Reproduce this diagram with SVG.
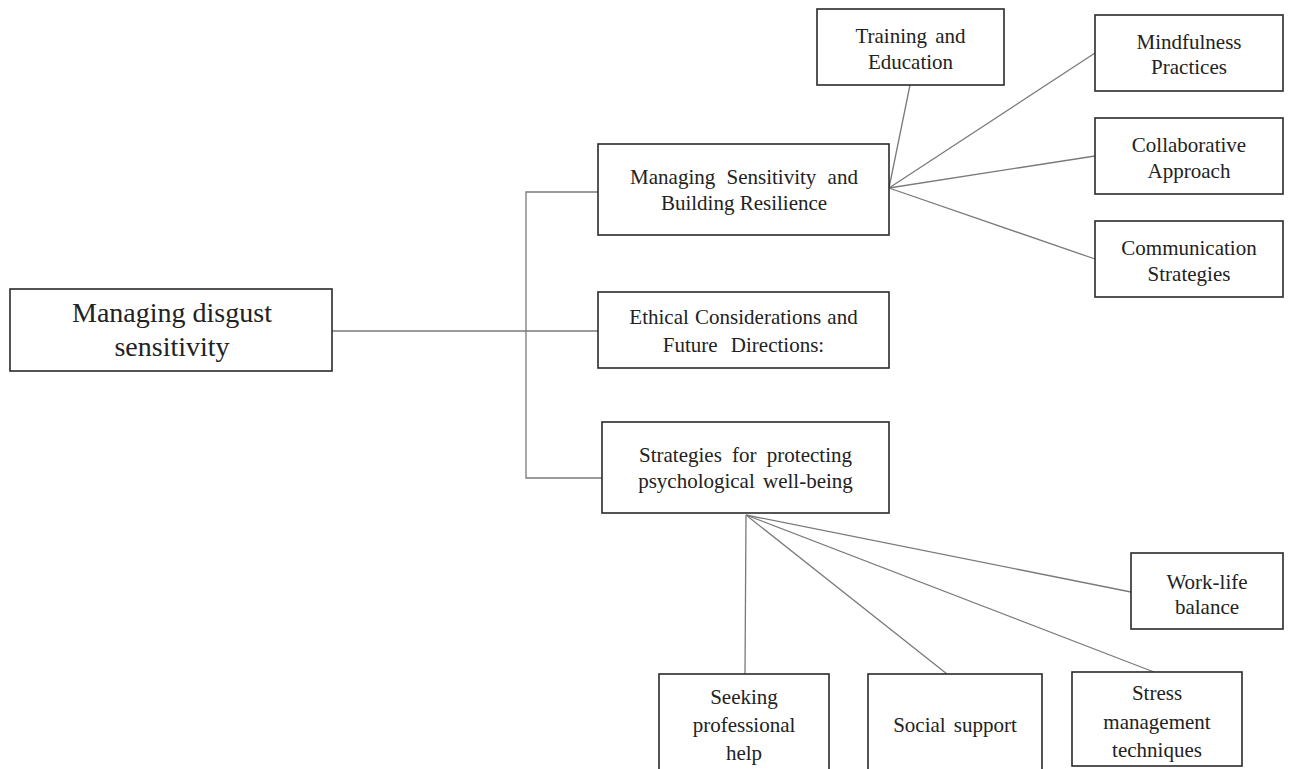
<svg xmlns="http://www.w3.org/2000/svg" width="1298" height="769" viewBox="0 0 1298 769">
<style>
.box{fill:#fff;stroke:#2a2a2a;stroke-width:1.6}
.t{font-family:"Liberation Serif","Times New Roman",serif;font-size:21px;fill:#222;text-anchor:middle}
.big{font-size:28px}
.c{stroke:#7a7a7a;stroke-width:1.3;fill:none}
</style>
<rect width="1298" height="769" fill="#fff"/>
<g id="connectors">
<line class="c" x1="332" y1="331" x2="598" y2="331"/>
<polyline class="c" points="598,192 526,192 526,478 602,478"/>
<line class="c" x1="889" y1="188" x2="910" y2="85"/>
<line class="c" x1="889" y1="188" x2="1095" y2="53"/>
<line class="c" x1="889" y1="188" x2="1095" y2="156"/>
<line class="c" x1="889" y1="188" x2="1095" y2="259"/>
<line class="c" x1="746" y1="515" x2="745" y2="674"/>
<line class="c" x1="746" y1="515" x2="947" y2="674"/>
<line class="c" x1="746" y1="515" x2="1154" y2="672"/>
<line class="c" x1="746" y1="515" x2="1131" y2="592"/>
</g>
<g id="root">
<rect class="box" x="10" y="289" width="322" height="82"/>
<text class="t big" x="172" y="322">Managing disgust</text>
<text class="t big" x="172" y="356">sensitivity</text>
</g>
<g id="managing-sensitivity">
<rect class="box" x="598" y="144" width="291" height="91"/>
<text class="t" x="744" y="184" word-spacing="6">Managing Sensitivity and</text>
<text class="t" x="744" y="210">Building Resilience</text>
</g>
<g id="ethical">
<rect class="box" x="598" y="292" width="291" height="76"/>
<text class="t" x="743.5" y="324" word-spacing="1">Ethical Considerations and</text>
<text class="t" x="743.5" y="352" word-spacing="8">Future Directions:</text>
</g>
<g id="strategies">
<rect class="box" x="602" y="422" width="287" height="91"/>
<text class="t" x="745.5" y="462" word-spacing="5">Strategies for protecting</text>
<text class="t" x="745.5" y="488" word-spacing="3">psychological well-being</text>
</g>
<g id="training">
<rect class="box" x="817" y="9" width="187" height="76"/>
<text class="t" x="910.5" y="43" word-spacing="3">Training and</text>
<text class="t" x="910.5" y="69">Education</text>
</g>
<g id="mindfulness">
<rect class="box" x="1095" y="15" width="188" height="76"/>
<text class="t" x="1189" y="49">Mindfulness</text>
<text class="t" x="1189" y="74">Practices</text>
</g>
<g id="collaborative">
<rect class="box" x="1095" y="118" width="188" height="76"/>
<text class="t" x="1189" y="152">Collaborative</text>
<text class="t" x="1189" y="178">Approach</text>
</g>
<g id="communication">
<rect class="box" x="1095" y="221" width="188" height="76"/>
<text class="t" x="1189" y="255">Communication</text>
<text class="t" x="1189" y="281">Strategies</text>
</g>
<g id="work-life">
<rect class="box" x="1131" y="553" width="152" height="76"/>
<text class="t" x="1207" y="589">Work-life</text>
<text class="t" x="1207" y="614">balance</text>
</g>
<g id="seeking">
<rect class="box" x="659" y="674" width="170" height="110"/>
<text class="t" x="744" y="704">Seeking</text>
<text class="t" x="744" y="732">professional</text>
<text class="t" x="744" y="760">help</text>
</g>
<g id="social">
<rect class="box" x="868" y="674" width="174" height="110"/>
<text class="t" x="955" y="732" word-spacing="3">Social support</text>
</g>
<g id="stress">
<rect class="box" x="1072" y="672" width="170" height="94"/>
<text class="t" x="1157" y="700">Stress</text>
<text class="t" x="1157" y="729">management</text>
<text class="t" x="1157" y="757">techniques</text>
</g>
</svg>
